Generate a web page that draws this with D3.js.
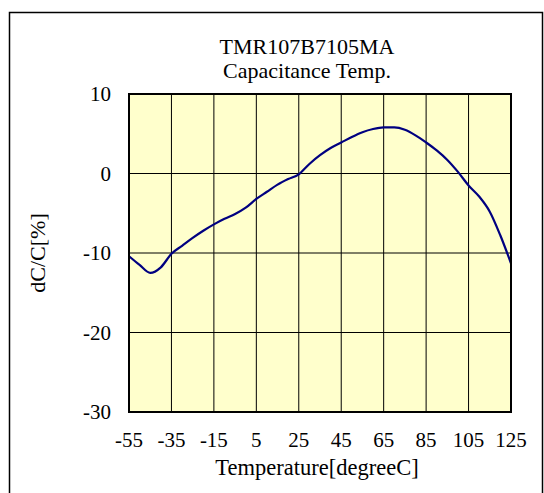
<!DOCTYPE html>
<html>
<head>
  <title>TMR107B7105MA Capacitance Temp.</title>
  <style>
    body {
      background-color: white;
      margin: 0;
      padding: 0;
    }
    svg text {
      font-family: "Liberation Serif", "Times New Roman", serif;
      fill: #000;
    }
  </style>
</head>
<body>
  <div id="chart-container"></div>

  <script src="https://d3js.org/d3.v7.min.js"></script>
  <script>
    // Data
    const temps = [-55, -50, -45, -40, -35, -30, -25, -20, -15, -10, -5, 0, 5, 10, 15, 20, 25,
                   30, 35, 40, 45, 50, 55, 60, 65, 70, 75, 80, 85, 90, 95, 100, 105, 110, 115, 120, 125];
    const dcValues = [-10.4, -11.5, -12.5, -11.8, -10.1, -9.1, -8.1, -7.2, -6.4, -5.7, -5.1, -4.3, -3.2, -2.3, -1.4, -0.7, -0.1,
                      1.2, 2.3, 3.2, 3.9, 4.6, 5.2, 5.6, 5.8, 5.8, 5.5, 4.8, 3.9, 2.9, 1.7, 0.2, -1.5, -2.9, -4.8, -7.8, -11.3];
    const xTicks = [-55, -35, -15, 5, 25, 45, 65, 85, 105, 125];
    const yTicks = [10, 0, -10, -20, -30];
    const titleLines = ['TMR107B7105MA', 'Capacitance Temp.'];

    const width = 544, height = 493;
    const plot = { left: 129, right: 511, top: 94, bottom: 412 };

    const svg = d3.select('#chart-container').append('svg')
      .attr('width', width)
      .attr('height', height);

    // outer frame
    svg.append('rect')
      .attr('x', 9.5).attr('y', 12.5)
      .attr('width', 533).attr('height', 500)
      .attr('fill', 'none')
      .attr('stroke', '#000')
      .attr('stroke-width', 1.5);

    const x = d3.scaleLinear().domain([-55, 125]).range([plot.left, plot.right]);
    const y = d3.scaleLinear().domain([-30, 10]).range([plot.bottom, plot.top]);

    // plot background
    svg.append('rect')
      .attr('x', plot.left).attr('y', plot.top)
      .attr('width', plot.right - plot.left)
      .attr('height', plot.bottom - plot.top)
      .attr('fill', '#ffffcc');

    // grid
    svg.append('g')
      .selectAll('line')
      .data(xTicks.slice(1, -1))
      .enter().append('line')
      .attr('x1', d => x(d)).attr('x2', d => x(d))
      .attr('y1', plot.top).attr('y2', plot.bottom)
      .attr('stroke', '#000').attr('stroke-width', 1);

    svg.append('g')
      .selectAll('line')
      .data(yTicks.slice(1, -1))
      .enter().append('line')
      .attr('x1', plot.left).attr('x2', plot.right)
      .attr('y1', d => y(d)).attr('y2', d => y(d))
      .attr('stroke', '#000').attr('stroke-width', 1);

    // curve
    const line = d3.line()
      .x((d, i) => x(temps[i]))
      .y(d => y(d))
      .curve(d3.curveMonotoneX);

    svg.append('path')
      .datum(dcValues)
      .attr('d', line)
      .attr('fill', 'none')
      .attr('stroke', '#000080')
      .attr('stroke-width', 2.2);

    // plot border
    svg.append('rect')
      .attr('x', plot.left).attr('y', plot.top)
      .attr('width', plot.right - plot.left)
      .attr('height', plot.bottom - plot.top)
      .attr('fill', 'none')
      .attr('stroke', '#000')
      .attr('stroke-width', 2);

    // tick labels
    svg.append('g')
      .selectAll('text')
      .data(xTicks)
      .enter().append('text')
      .attr('x', d => x(d))
      .attr('y', 447)
      .attr('text-anchor', 'middle')
      .style('font-size', '21px')
      .text(d => d);

    svg.append('g')
      .selectAll('text')
      .data(yTicks)
      .enter().append('text')
      .attr('x', 111)
      .attr('y', d => y(d) + 7)
      .attr('text-anchor', 'end')
      .style('font-size', '21px')
      .text(d => d);

    // titles
    svg.selectAll('.title')
      .data(titleLines)
      .enter().append('text')
      .attr('class', 'title')
      .attr('x', 307)
      .attr('y', (d, i) => 54 + i * 24)
      .attr('text-anchor', 'middle')
      .style('font-size', '22px')
      .text(d => d);

    svg.append('text')
      .attr('x', 317)
      .attr('y', 475)
      .attr('text-anchor', 'middle')
      .style('font-size', '22.5px')
      .text('Temperature[degreeC]');

    svg.append('text')
      .attr('transform', 'translate(45,' + (plot.top + plot.bottom) / 2 + ') rotate(-90)')
      .attr('text-anchor', 'middle')
      .style('font-size', '22px')
      .text('dC/C[%]');
  </script>
</body>
</html>
